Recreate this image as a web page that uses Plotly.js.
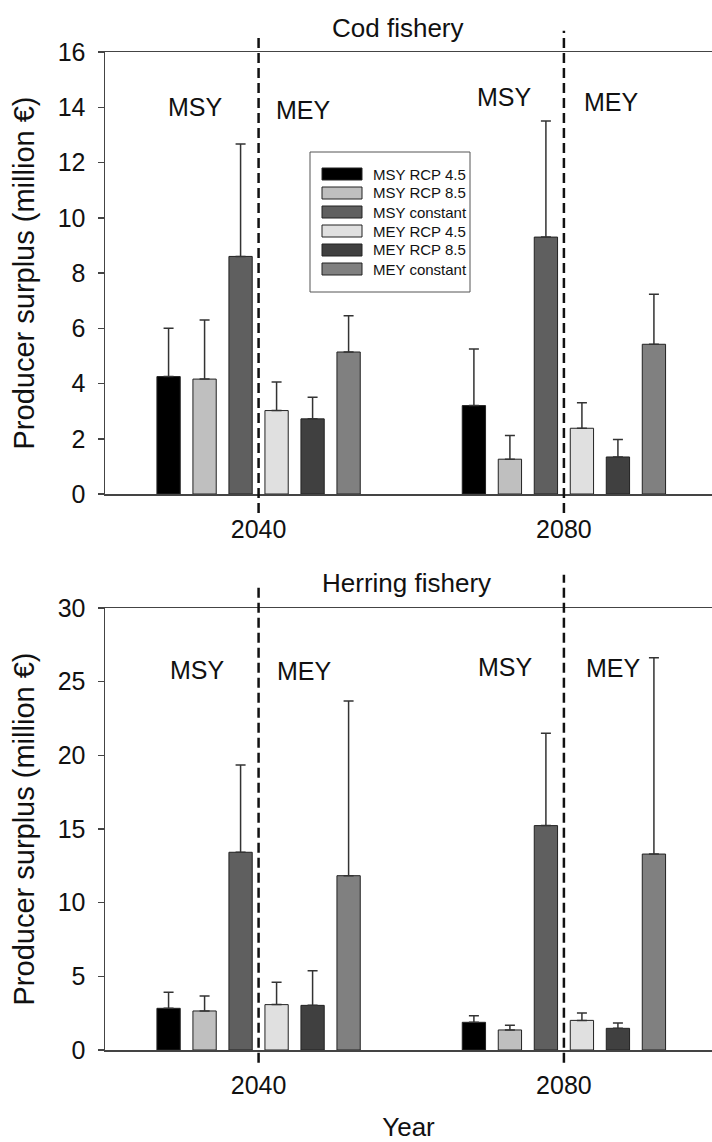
<!DOCTYPE html>
<html>
<head>
<meta charset="utf-8">
<script src="https://cdn.plot.ly/plotly-3.0.1.min.js"></script>
<style>html,body{margin:0;padding:0;background:#fff;}#chart{width:712px;height:1142px;}</style>
</head>
<body>
<div id="chart"></div>
<script>
// ---- data ----
const years = ['2040', '2080'];
const seriesNames = ['MSY RCP 4.5', 'MSY RCP 8.5', 'MSY constant', 'MEY RCP 4.5', 'MEY RCP 8.5', 'MEY constant'];
const seriesColors = ['#000000', '#bfbfbf', '#5f5f5f', '#e0e0e0', '#404040', '#808080'];

// Cod fishery: mean producer surplus (million €) per series, [2040, 2080]
const codMean = [
  [4.25, 3.20],
  [4.16, 1.26],
  [8.60, 9.30],
  [3.02, 2.38],
  [2.72, 1.34],
  [5.14, 5.42]
];
// Cod fishery: upper end of error bar
const codUpper = [
  [6.00, 5.25],
  [6.30, 2.12],
  [12.67, 13.50],
  [4.05, 3.30],
  [3.50, 1.97],
  [6.45, 7.23]
];
// Herring fishery
const herMean = [
  [2.83, 1.88],
  [2.65, 1.36],
  [13.42, 15.23],
  [3.08, 2.01],
  [3.03, 1.47],
  [11.83, 13.30]
];
const herUpper = [
  [3.92, 2.33],
  [3.67, 1.68],
  [19.35, 21.50],
  [4.60, 2.51],
  [5.38, 1.83],
  [23.69, 26.63]
];
const codTicks = [0, 2, 4, 6, 8, 10, 12, 14, 16];
const herTicks = [0, 5, 10, 15, 20, 25, 30];

// ---- helpers (pixel -> paper for decorations) ----
const L = 105, R = 712, T = 52, B = 1050;
const px = x => (x - L) / (R - L);
const py = y => (B - y) / (B - T);

const traces = [];
function addPanel(means, uppers, xa, ya) {
  seriesNames.forEach((name, i) => {
    traces.push({
      type: 'bar',
      name: name,
      x: years,
      y: means[i],
      xaxis: xa, yaxis: ya,
      marker: {color: seriesColors[i], line: {color: '#222', width: 1}},
      error_y: {
        type: 'data', symmetric: false,
        array: uppers[i].map((u, k) => u - means[i][k]),
        arrayminus: means[i].map(() => 0),
        color: '#333', thickness: 1.5, width: 5
      },
      showlegend: false,
      hoverinfo: 'x+y+name'
    });
  });
}
addPanel(codMean, codUpper, 'x', 'y');
addPanel(herMean, herUpper, 'x2', 'y2');

const FONT = 'Liberation Sans, Arial, Helvetica, sans-serif';
const xRange = [-0.503, 1.485];

function xAxis(anchor, withTitle) {
  const ax = {
    anchor: anchor, type: 'category', range: xRange,
    showline: true, linecolor: '#444', linewidth: 1.5, mirror: true,
    ticks: '', showgrid: false, zeroline: false,
    tickfont: {size: 25, color: '#111'}, ticklabelstandoff: 12,
    fixedrange: true
  };
  if (withTitle) ax.title = {text: 'Year', font: {size: 26, color: '#111'}, standoff: 30};
  return ax;
}
function yAxis(anchor, domain, range, ticks) {
  return {
    anchor: anchor, domain: domain, range: range,
    tickvals: ticks, ticktext: ticks.map(String),
    showline: true, linecolor: '#444', linewidth: 1.5,
    ticks: 'outside', ticklen: 6, tickcolor: '#444', tickwidth: 1.5,
    showgrid: false, zeroline: false,
    tickfont: {size: 25, color: '#111'}, ticklabelstandoff: 7,
    title: {text: 'Producer surplus (million €)', font: {size: 29, color: '#111'}, standoff: 14},
    fixedrange: true
  };
}

const shapes = [];
const annotations = [];

// dashed separators at each year between MSY and MEY groups
[['x', 'y domain', 1.032, 1.048, -0.043], ['x2', 'y2 domain', 1.052, 1.075, -0.029]].forEach(s => {
  [0, 1].forEach(k => {
    shapes.push({
      type: 'line', xref: s[0], yref: s[1],
      x0: k, x1: k, y0: s[4], y1: k === 0 ? s[2] : s[3],
      line: {color: '#111', width: 2.5, dash: '10px,5px'}
    });
  });
});

// MSY / MEY region labels
const regionLabels = [
  ['x', 'y', -0.205, 14.0, 'MSY'], ['x', 'y', 0.146, 13.9, 'MEY'],
  ['x', 'y', 0.807, 14.37, 'MSY'], ['x', 'y', 1.157, 14.2, 'MEY'],
  ['x2', 'y2', -0.200, 25.8, 'MSY'], ['x2', 'y2', 0.149, 25.7, 'MEY'],
  ['x2', 'y2', 0.809, 25.97, 'MSY'], ['x2', 'y2', 1.161, 25.93, 'MEY']
];
regionLabels.forEach(a => annotations.push({
  xref: a[0], yref: a[1], x: a[2], y: a[3], text: a[4], showarrow: false,
  xanchor: 'center', yanchor: 'middle', font: {size: 25, color: '#111'}
}));

// panel titles
annotations.push({xref: 'paper', yref: 'paper', x: px(398), y: py(28), text: 'Cod fishery',
  showarrow: false, xanchor: 'center', yanchor: 'middle', font: {size: 26, color: '#111'}});
annotations.push({xref: 'paper', yref: 'paper', x: px(406), y: py(583), text: 'Herring fishery',
  showarrow: false, xanchor: 'center', yanchor: 'middle', font: {size: 26, color: '#111'}});

// legend (drawn in the top panel)
shapes.push({type: 'rect', xref: 'paper', yref: 'paper', x0: px(310), x1: px(470), y0: py(292), y1: py(152),
  fillcolor: '#fff', line: {color: '#555', width: 1}});
seriesNames.forEach((name, i) => {
  const yc = 174 + 19 * i;
  shapes.push({type: 'rect', xref: 'paper', yref: 'paper', x0: px(322), x1: px(362), y0: py(yc + 6), y1: py(yc - 6),
    fillcolor: seriesColors[i], line: {color: '#222', width: 1}});
  annotations.push({xref: 'paper', yref: 'paper', x: px(371), y: py(yc), text: name, showarrow: false,
    xanchor: 'left', yanchor: 'middle', font: {size: 15, color: '#111'}});
});

const layout = {
  width: 712, height: 1142,
  margin: {l: L, r: 712 - R, t: T, b: 1142 - B, pad: 0},
  paper_bgcolor: '#fff', plot_bgcolor: '#fff',
  font: {family: FONT, color: '#111'},
  showlegend: false,
  barmode: 'group', bargap: 0.2925, bargroupgap: 0.353,
  xaxis: xAxis('y', false),
  yaxis: yAxis('x', [1 - 442 / 998, 1], [0, 16], codTicks),
  xaxis2: xAxis('y2', true),
  yaxis2: yAxis('x2', [0, 442 / 998], [0, 30], herTicks),
  shapes: shapes,
  annotations: annotations
};

Plotly.newPlot('chart', traces, layout, {displayModeBar: false, staticPlot: true});
</script>
</body>
</html>
